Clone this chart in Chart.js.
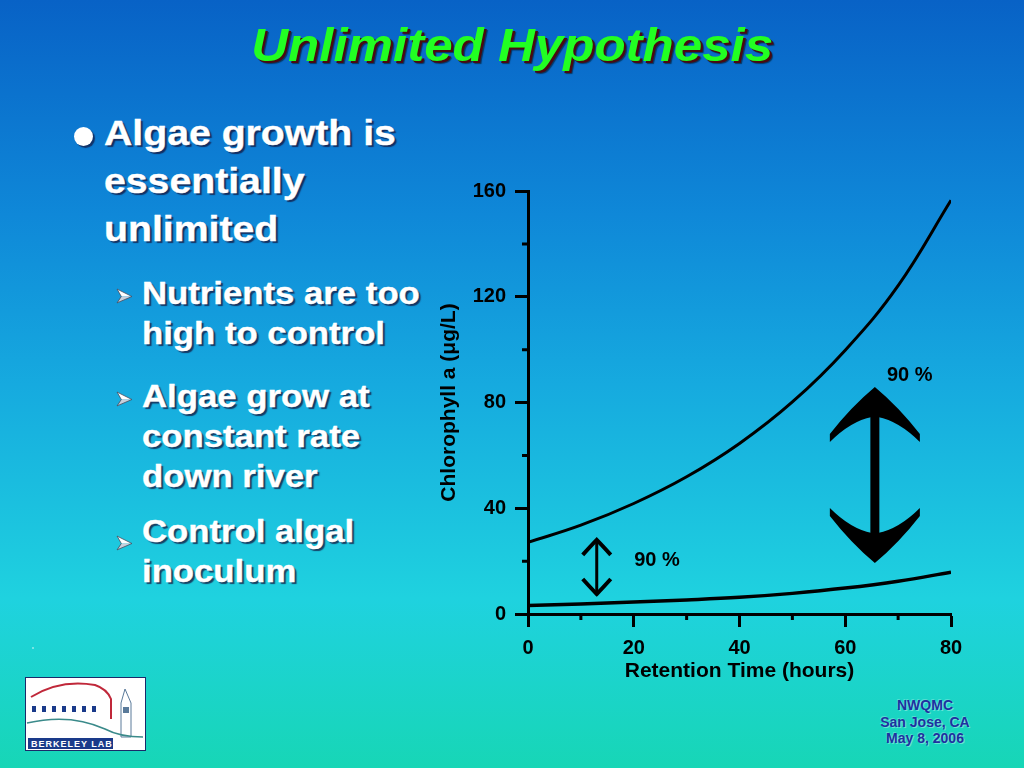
<!DOCTYPE html>
<html>
<head>
<meta charset="utf-8">
<script src="https://cdn.jsdelivr.net/npm/chart.js@4.4.1/dist/chart.umd.min.js"></script>
<style>
  html,body{margin:0;padding:0;}
  body{width:1024px;height:768px;overflow:hidden;position:relative;
    background:linear-gradient(to bottom,#0862c6 0%,#0f88d8 28%,#16aadf 50%,#1fd2df 78%,#17d6b6 100%);
    font-family:"Liberation Sans",Arial,Helvetica,sans-serif;}
  .title{position:absolute;left:0;width:1024px;top:18px;text-align:center;
    font-size:46px;font-weight:bold;font-style:italic;color:#22ff22;
    text-shadow:2px 2px 0 #4a0a10, 3px 3px 1px rgba(0,0,0,0.5);}
  .title span{display:inline-block;transform:scaleX(1.11);}
  .ln{position:absolute;white-space:nowrap;color:#fff;font-weight:bold;
    text-shadow:2px 2px 1px rgba(20,20,60,0.75);transform-origin:left center;transform:scaleX(1.12);
    -webkit-text-stroke:0.4px #fff;}
  .l1{font-size:35px;line-height:48px;}
  .l2{font-size:31px;line-height:40px;}
  .dot{position:absolute;left:74px;top:127px;width:19px;height:19px;border-radius:50%;background:#fff;
    box-shadow:2px 2px 1px rgba(20,20,60,0.7);}
  .arr{position:absolute;width:17px;height:17px;}
  .foot{position:absolute;left:855px;width:140px;text-align:center;font-size:14px;font-weight:bold;
    color:#1f30a0;text-shadow:1px 1px 0 rgba(255,255,255,0.35),-1px -1px 0 rgba(255,255,255,0.25);line-height:16.5px;top:697px;}
  #wrap{position:absolute;left:420px;top:170px;width:580px;height:530px;}
  .logo{position:absolute;left:25px;top:677px;width:121px;height:74px;}
</style>
</head>
<body>
<div class="title"><span>Unlimited Hypothesis</span></div>

<div class="dot"></div>
<div class="ln l1" style="left:104px;top:109px">Algae growth is</div>
<div class="ln l1" style="left:104px;top:157px">essentially</div>
<div class="ln l1" style="left:104px;top:205px">unlimited</div>

<svg class="arr" style="left:116px;top:288px" viewBox="0 0 16 16"><polygon points="1,1 15,8 5,8" fill="#fff"/><polygon points="1,14 15,8 5,8" fill="#c8d0dc"/><polygon points="1,1 15,8 1,14 5,8" fill="none" stroke="#445" stroke-width="0.7"/></svg>
<div class="ln l2" style="left:142px;top:274px">Nutrients are too</div>
<div class="ln l2" style="left:142px;top:314px">high to control</div>

<svg class="arr" style="left:116px;top:391px" viewBox="0 0 16 16"><polygon points="1,1 15,8 5,8" fill="#fff"/><polygon points="1,14 15,8 5,8" fill="#c8d0dc"/><polygon points="1,1 15,8 1,14 5,8" fill="none" stroke="#445" stroke-width="0.7"/></svg>
<div class="ln l2" style="left:142px;top:377px">Algae grow at</div>
<div class="ln l2" style="left:142px;top:417px">constant rate</div>
<div class="ln l2" style="left:142px;top:457px">down river</div>

<svg class="arr" style="left:116px;top:535px" viewBox="0 0 16 16"><polygon points="1,1 15,8 5,8" fill="#fff"/><polygon points="1,14 15,8 5,8" fill="#c8d0dc"/><polygon points="1,1 15,8 1,14 5,8" fill="none" stroke="#445" stroke-width="0.7"/></svg>
<div class="ln l2" style="left:142px;top:512px">Control algal</div>
<div class="ln l2" style="left:142px;top:552px">inoculum</div>

<div style="position:absolute;left:32px;top:647px;width:2px;height:2px;background:rgba(255,255,255,0.4)"></div>

<svg class="logo" viewBox="0 0 121 74">
  <rect x="0.5" y="0.5" width="120" height="73" fill="#fff" stroke="#1a2a6a" stroke-width="1"/>
  <path d="M6,20 Q35,2 70,8 Q82,12 86,22 L86,42" fill="none" stroke="#c0283a" stroke-width="2"/>
  <g fill="#1a3a8a">
    <rect x="7" y="29" width="4" height="6"/><rect x="17" y="29" width="4" height="6"/>
    <rect x="27" y="29" width="4" height="6"/><rect x="37" y="29" width="4" height="6"/>
    <rect x="47" y="29" width="4" height="6"/><rect x="57" y="29" width="4" height="6"/>
    <rect x="67" y="29" width="4" height="6"/>
  </g>
  <path d="M100,12 L96,26 L96,60 L106,60 L106,26 Z" fill="none" stroke="#5a7a9a" stroke-width="1"/>
  <rect x="98" y="30" width="6" height="6" fill="#5a7a9a"/>
  <path d="M2,46 Q45,36 80,52 Q95,60 118,60" fill="none" stroke="#3a8a8a" stroke-width="1.5"/>
  <rect x="3" y="61" width="85" height="11" fill="#1a3a8a"/>
  <text x="6" y="70" font-size="9" font-weight="bold" fill="#fff" font-family="Liberation Sans" letter-spacing="1">BERKELEY LAB</text>
</svg>

<div class="foot">NWQMC<br>San Jose, CA<br>May 8, 2006</div>

<div id="wrap"><canvas id="c" width="580" height="530"></canvas></div>

<script>
// ----- data -----
const retentionHours = [0, 10, 20, 30, 40, 50, 60, 70, 80];
const upperChl = [27.1, 33.6, 41.8, 51.9, 64.5, 80.2, 99.8, 124.2, 156.5];
const lowerChl = [3.2, 3.8, 4.5, 5.3, 6.3, 7.8, 9.8, 12.4, 15.8];
const xMajorTicks = [0, 20, 40, 60, 80];
const xMinorTicks = [10, 30, 50, 70];
const yMajorTicks = [0, 40, 80, 120, 160];
const yMinorTicks = [20, 60, 100, 140];
// annotation arrows (data coordinates)
const arrowX = [13.0, 65.6];
const arrowLow = [7.2, 19.3];
const arrowHigh = [28.4, 85.9];
const labelX = [24.4, 72.2];
const labelY = [20.4, 90.4];
const labelText = ['90 %', '90 %'];

const FONT = '"Liberation Sans", Arial, Helvetica, sans-serif';

const annot = {
  id: 'annot',
  afterDatasetsDraw(chart) {
    const ctx = chart.ctx, xs = chart.scales.x, ys = chart.scales.y, ca = chart.chartArea;
    ctx.save();
    ctx.strokeStyle = '#000'; ctx.fillStyle = '#000';
    // minor ticks
    ctx.lineWidth = 3;
    ctx.beginPath();
    yMinorTicks.forEach(v => { const p = ys.getPixelForValue(v); ctx.moveTo(ca.left - 6, p); ctx.lineTo(ca.left, p); });
    xMinorTicks.forEach(v => { const p = xs.getPixelForValue(v); ctx.moveTo(p, ca.bottom); ctx.lineTo(p, ca.bottom + 6); });
    ctx.stroke();

    // small arrow
    {
      const cx = xs.getPixelForValue(arrowX[0]);
      const t = ys.getPixelForValue(arrowHigh[0]);
      const b = ys.getPixelForValue(arrowLow[0]);
      ctx.lineWidth = 3;
      ctx.beginPath(); ctx.moveTo(cx, t + 2); ctx.lineTo(cx, b - 2); ctx.stroke();
      ctx.lineWidth = 4; ctx.lineJoin = 'miter'; ctx.lineCap = 'butt';
      ctx.beginPath();
      ctx.moveTo(cx - 14, t + 16); ctx.quadraticCurveTo(cx - 5, t + 6, cx, t + 1);
      ctx.quadraticCurveTo(cx + 5, t + 6, cx + 14, t + 16);
      ctx.stroke();
      ctx.beginPath();
      ctx.moveTo(cx - 14, b - 16); ctx.quadraticCurveTo(cx - 5, b - 6, cx, b - 1);
      ctx.quadraticCurveTo(cx + 5, b - 6, cx + 14, b - 16);
      ctx.stroke();
    }
    // big arrow
    {
      const cx = xs.getPixelForValue(arrowX[1]);
      const t = ys.getPixelForValue(arrowHigh[1]);
      const b = ys.getPixelForValue(arrowLow[1]);
      ctx.lineWidth = 9; ctx.lineCap = 'butt';
      ctx.beginPath(); ctx.moveTo(cx, t + 20); ctx.lineTo(cx, b - 20); ctx.stroke();
      const head = (tipY, s) => {
        ctx.beginPath();
        ctx.moveTo(cx, tipY);
        ctx.quadraticCurveTo(cx - 24, tipY + s * 20, cx - 45, tipY + s * 47);
        ctx.lineTo(cx - 45, tipY + s * 55);
        ctx.quadraticCurveTo(cx - 24, tipY + s * 34, cx - 3, tipY + s * 30);
        ctx.lineTo(cx + 3, tipY + s * 30);
        ctx.quadraticCurveTo(cx + 24, tipY + s * 34, cx + 45, tipY + s * 55);
        ctx.lineTo(cx + 45, tipY + s * 47);
        ctx.quadraticCurveTo(cx + 24, tipY + s * 20, cx, tipY);
        ctx.closePath();
        ctx.fill();
      };
      head(t, 1);
      head(b, -1);
    }
    // labels
    ctx.font = 'bold 20px ' + FONT;
    ctx.textAlign = 'center'; ctx.textBaseline = 'middle';
    labelText.forEach((txt, i) => {
      ctx.fillText(txt, xs.getPixelForValue(labelX[i]), ys.getPixelForValue(labelY[i]));
    });
    ctx.restore();
  }
};

new Chart(document.getElementById('c'), {
  type: 'line',
  data: {
    datasets: [
      { data: retentionHours.map((x, i) => ({ x, y: upperChl[i] })), borderColor: '#000', borderWidth: 3,
        pointRadius: 0, tension: 0.4, fill: false },
      { data: retentionHours.map((x, i) => ({ x, y: lowerChl[i] })), borderColor: '#000', borderWidth: 3.5,
        pointRadius: 0, tension: 0.4, fill: false }
    ]
  },
  options: {
    responsive: false, animation: false,
    devicePixelRatio: 1,
    layout: { padding: { left: 0, right: 49, top: 21, bottom: 6 } },
    plugins: { legend: { display: false }, tooltip: { enabled: false } },
    scales: {
      x: {
        type: 'linear', min: 0, max: 80,
        afterBuildTicks: s => { s.ticks = xMajorTicks.map(v => ({ value: v })); },
        afterFit: s => { s.height = 80; },
        border: { display: true, color: '#000', width: 3 },
        grid: { drawOnChartArea: false, drawTicks: true, tickLength: 13, tickWidth: 3, tickColor: '#000' },
        ticks: { color: '#000', padding: 9, font: { family: FONT, size: 20, weight: 'bold' }, maxRotation: 0 },
        title: { display: true, text: 'Retention Time (hours)', color: '#000',
          font: { family: FONT, size: 21, weight: 'bold' }, padding: { top: 0, bottom: 10 } }
      },
      y: {
        type: 'linear', min: 0, max: 160,
        afterBuildTicks: s => { s.ticks = yMajorTicks.map(v => ({ value: v })); },
        afterFit: s => { s.width = 108; },
        border: { display: true, color: '#000', width: 3 },
        grid: { drawOnChartArea: false, drawTicks: true, tickLength: 13, tickWidth: 3, tickColor: '#000' },
        ticks: { color: '#000', padding: 9, font: { family: FONT, size: 20, weight: 'bold' } },
        title: { display: true, text: 'Chlorophyll a (μg/L)', color: '#000',
          font: { family: FONT, size: 21, weight: 'bold' }, padding: { top: 17, bottom: 0 } }
      }
    }
  },
  plugins: [annot]
});
</script>
</body>
</html>
